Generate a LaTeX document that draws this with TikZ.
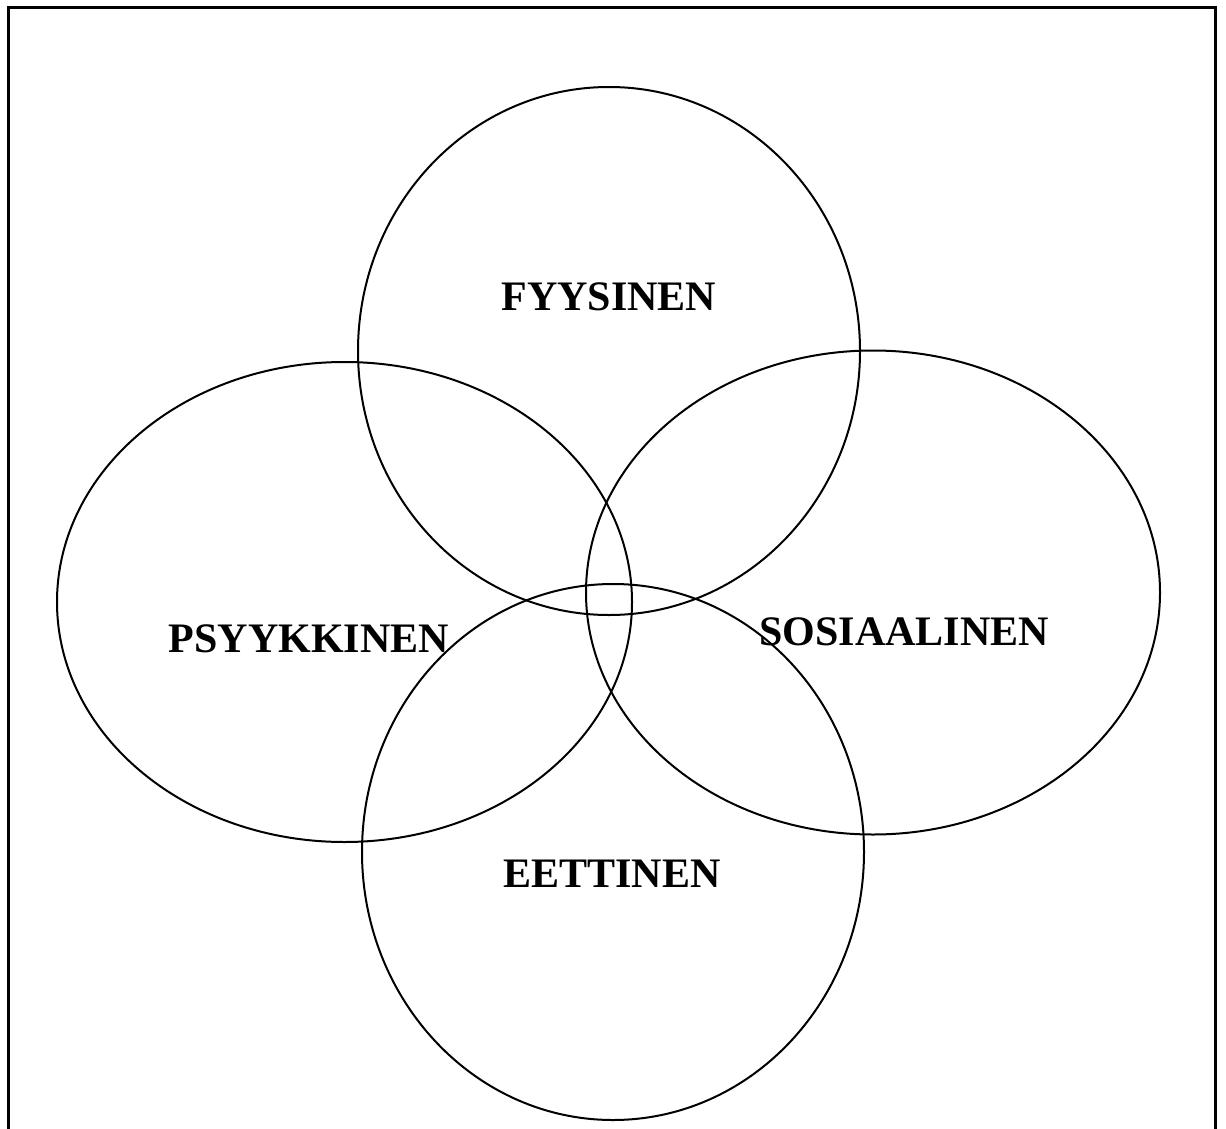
\documentclass[tikz,border=0pt]{standalone}
\usepackage{fontspec}
\setmainfont{Liberation Serif}
\begin{document}
\begin{tikzpicture}[x=1pt,y=-1pt,
  ring/.style={draw=black,line width=2pt},
  lbl/.style={font=\fontsize{42}{42}\selectfont\bfseries,inner sep=0pt,anchor=base}]
\useasboundingbox (0,0) rectangle (1226,1129);
\clip (0,0) rectangle (1226,1129);
\draw[line width=3pt] (8,1160) -- (8,8) -- (1215,8) -- (1215,1160);
\draw[ring] (609,351) ellipse [x radius=251, y radius=264];
\draw[ring] (613,852) ellipse [x radius=251, y radius=268];
\draw[ring] (344.5,602) ellipse [x radius=287.5, y radius=240];
\draw[ring] (873,592.5) ellipse [x radius=287, y radius=242];
\node[lbl] (fyy) at (609,310) {FYYSINEN};
\node[lbl] (psy) at (309,652) {PSYYKKINEN};
\node[lbl] (sos) at (904,645) {SOSIAALINEN};
\node[lbl] (eet) at (612,887) {EETTINEN};
\end{tikzpicture}
\end{document}
